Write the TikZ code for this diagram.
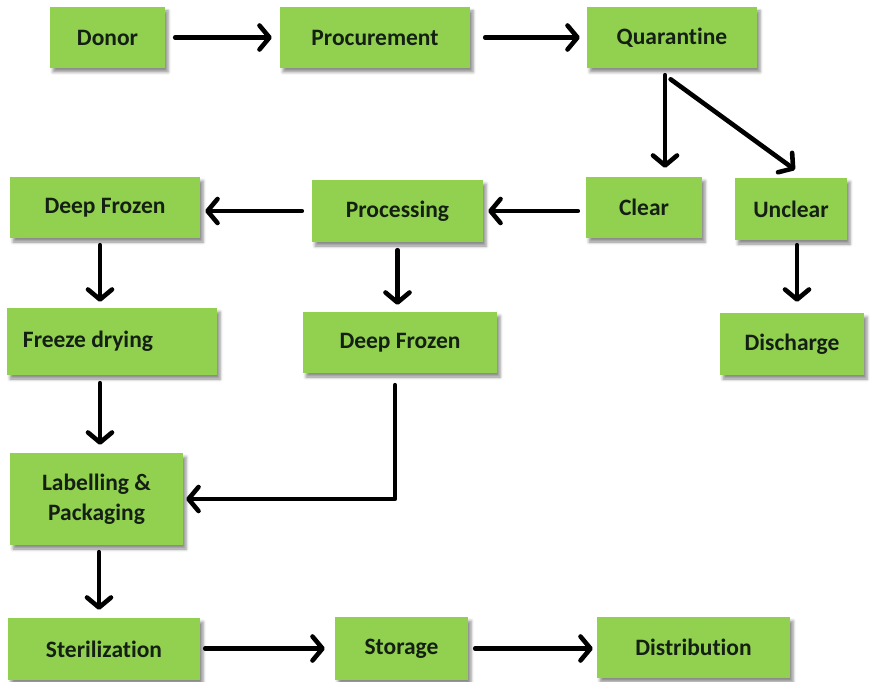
\documentclass[tikz,border=0pt]{standalone}
\usepackage{fontspec}
\setmainfont[Ligatures={NoCommon}]{Carlito}
\usetikzlibrary{arrows.meta,shadows.blur}
\definecolor{boxgreen}{HTML}{92D050}
\definecolor{boxtext}{HTML}{142014}
\tikzset{
  box/.style={rectangle, fill=boxgreen, draw=none, text=boxtext,
    font=\fontsize{23.5}{30}\selectfont\bfseries, align=center, inner sep=0pt,
    blur shadow={shadow xshift=3pt, shadow yshift=-4pt, shadow blur radius=3pt, shadow opacity=45}},
  arr/.style={line width=4.6pt, line cap=round, line join=round,
    -{Straight Barb[length=10pt,width=24pt,round]}},
}
\begin{document}
\begin{tikzpicture}[x=1pt,y=-1pt]
\useasboundingbox (0,0) rectangle (870,682);
% nodes
\node[box, minimum width=115pt, minimum height=61pt] (donor) at (107.5,37.5) {Donor};
\node[box, minimum width=190pt, minimum height=61pt] (procure) at (375,37.5) {Procurement};
\node[box, minimum width=170pt, minimum height=61pt] (quar) at (672,37.5) {Quarantine};
\node[box, minimum width=116pt, minimum height=61pt] (clear) at (644,207.5) {Clear};
\node[box, minimum width=112pt, minimum height=62pt] (unclear) at (791,209) {Unclear};
\node[box, minimum width=144pt, minimum height=62pt] (discharge) at (792,344) {Discharge};
\node[box, minimum width=190pt, minimum height=61pt] (dfa) at (105,207.5) {Deep Frozen};
\node[box, minimum width=171pt, minimum height=62pt] (proc) at (397.5,211) {Processing};
\node[box, minimum width=210pt, minimum height=67pt] (freeze) at (112,341.5) {\makebox[178pt][l]{Freeze drying}};
\node[box, minimum width=194pt, minimum height=61pt] (dfb) at (400,342.5) {Deep Frozen};
\node[box, minimum width=173pt, minimum height=92pt] (label) at (96.5,499) {Labelling \&\\Packaging};
\node[box, minimum width=192pt, minimum height=62pt] (steril) at (104,649) {Sterilization};
\node[box, minimum width=133pt, minimum height=63pt] (storage) at (401.5,648.5) {Storage};
\node[box, minimum width=193pt, minimum height=61pt] (distrib) at (693.5,647.5) {Distribution};
% helper coordinates
\coordinate (qa) at ([xshift=-7pt]quar.south);
\coordinate (dfaa) at ([xshift=-5pt]dfa.south);
\coordinate (laba) at ([xshift=3.5pt]label.north);
\coordinate (dfba) at ([xshift=-5pt]dfb.south);
\coordinate (una) at ([xshift=6pt]unclear.south);
% connectors
\draw[arr, shorten <=10pt, shorten >=8pt] (donor.east) -- (procure.west);
\draw[arr, shorten <=15pt, shorten >=7pt] (procure.east) -- (quar.west);
\draw[arr, shorten <=7pt, shorten >=9pt] (qa) -- (qa |- clear.north);
\draw[arr, shorten <=7pt] (qa) ++(0,7) -- ([xshift=4pt,yshift=8pt]unclear.north);
\draw[arr, shorten <=8pt, shorten >=5pt] (clear.west |- proc.east) -- (proc.east);
\draw[arr, shorten <=10pt, shorten >=5pt] (proc.west) -- (proc.west -| dfa.east);
\draw[arr, shorten <=7pt, shorten >=6pt] (dfaa) -- (dfaa |- freeze.north);
\draw[arr, shorten <=8pt, shorten >=7pt] (proc.south) -- (proc.south |- dfb.north);
\draw[arr, shorten <=8pt, shorten >=8pt] (laba |- freeze.south) -- (laba);
\draw[arr, shorten <=12pt, shorten >=3pt] (dfba) |- (label.east);
\draw[arr, shorten <=7pt, shorten >=8pt] ([xshift=2.5pt]label.south) -- ([xshift=2.5pt]label.south |- steril.north);
\draw[arr, shorten <=5pt, shorten >=10pt] (steril.east |- storage.west) -- (storage.west);
\draw[arr, shorten <=7pt, shorten >=4pt] (storage.east) -- (storage.east -| distrib.west);
\draw[arr, shorten <=5pt, shorten >=11pt] (una) -- (una |- discharge.north);
\end{tikzpicture}
\end{document}
